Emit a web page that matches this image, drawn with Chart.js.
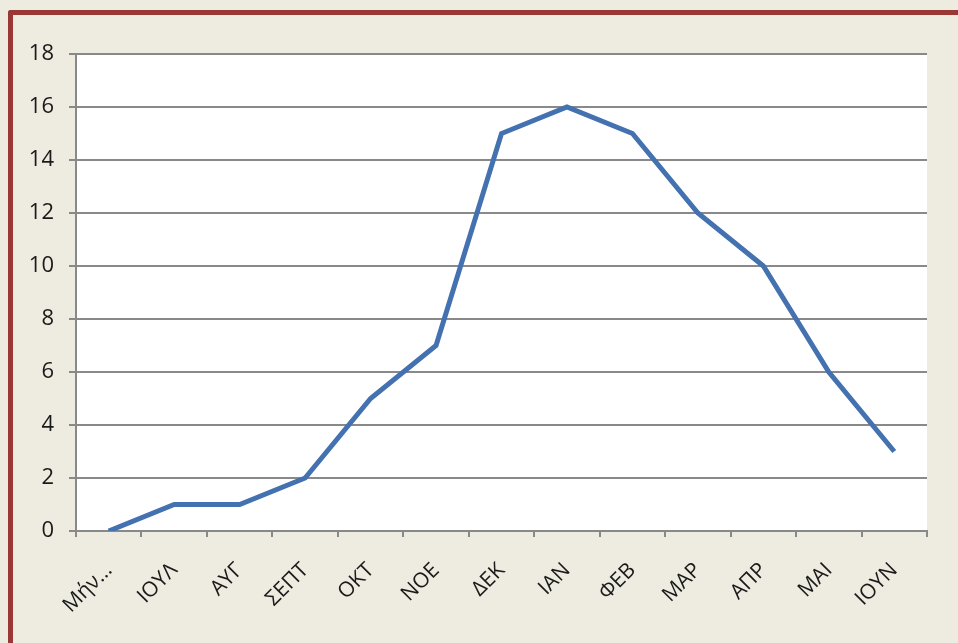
<!DOCTYPE html>
<html lang="el">
<head>
    <meta charset="UTF-8">
    <title>Μηνιαία καμπύλη</title>
    <script src="https://cdn.jsdelivr.net/npm/chart.js"></script>
    <style>
        body, html {
            margin: 0;
            padding: 0;
            width: 958px;
            height: 643px;
            background: #eeebe0;
            overflow: hidden;
        }
        /* Κόκκινο πλαίσιο πάνω και αριστερά */
        #frame {
            position: absolute;
            left: 8px;
            top: 10px;
            width: 960px;
            height: 650px;
            border-top: 5px solid #9a3836;
            border-left: 5px solid #9a3836;
            border-top-left-radius: 3px;
        }
        #chartBox {
            position: absolute;
            left: 0;
            top: 0;
            width: 958px;
            height: 643px;
        }
    </style>
</head>
<body>
    <div id="frame"></div>
    <div id="chartBox">
        <canvas id="lineChart"></canvas>
    </div>

    <script>
        // Δεδομένα
        const months = ['Μήν…', 'ΙΟΥΛ', 'ΑΥΓ', 'ΣΕΠΤ', 'ΟΚΤ', 'ΝΟΕ', 'ΔΕΚ', 'ΙΑΝ', 'ΦΕΒ', 'ΜΑΡ', 'ΑΠΡ', 'ΜΑΙ', 'ΙΟΥΝ'];
        const values = [0, 1, 1, 2, 5, 7, 15, 16, 15, 12, 10, 6, 3];
        const yTicks = [0, 2, 4, 6, 8, 10, 12, 14, 16, 18];

        // Λευκό φόντο στην περιοχή του γραφήματος
        const plotBg = {
            id: 'plotBg',
            beforeDraw(chart) {
                const a = chart.chartArea;
                const ctx = chart.ctx;
                ctx.save();
                ctx.fillStyle = '#ffffff';
                ctx.fillRect(a.left, a.top, a.right - a.left, a.bottom - a.top);
                ctx.restore();
            }
        };

        const fontFamily = '"Open Sans", "Liberation Sans", sans-serif';

        new Chart(document.getElementById('lineChart'), {
            type: 'line',
            data: {
                labels: months,
                datasets: [{
                    data: values,
                    borderColor: '#4472b0',
                    borderWidth: 5,
                    pointRadius: 0,
                    tension: 0,
                    fill: false
                }]
            },
            options: {
                responsive: true,
                maintainAspectRatio: false,
                animation: false,
                layout: {
                    padding: { left: 20, top: 54, right: 31, bottom: 0 }
                },
                plugins: {
                    legend: { display: false },
                    tooltip: { enabled: false }
                },
                scales: {
                    x: {
                        offset: true,
                        grid: {
                            offset: true,
                            drawOnChartArea: false,
                            color: '#898989',
                            lineWidth: 2,
                            tickLength: 6
                        },
                        border: { color: '#898989', width: 2 },
                        ticks: {
                            minRotation: 45,
                            maxRotation: 45,
                            autoSkip: false,
                            color: '#1a1a1a',
                            padding: 21,
                            font: { family: fontFamily, size: 21 }
                        },
                        afterFit(scale) { scale.height = 112; }
                    },
                    y: {
                        min: 0,
                        max: 18,
                        afterBuildTicks(scale) {
                            scale.ticks = yTicks.map(v => ({ value: v }));
                        },
                        grid: {
                            color: '#898989',
                            lineWidth: 2,
                            tickLength: 7
                        },
                        border: { color: '#898989', width: 2 },
                        ticks: {
                            color: '#1a1a1a',
                            padding: 15,
                            font: { family: fontFamily, size: 22 }
                        },
                        afterFit(scale) { scale.width = 56; }
                    }
                }
            },
            plugins: [plotBg]
        });
    </script>
</body>
</html>
